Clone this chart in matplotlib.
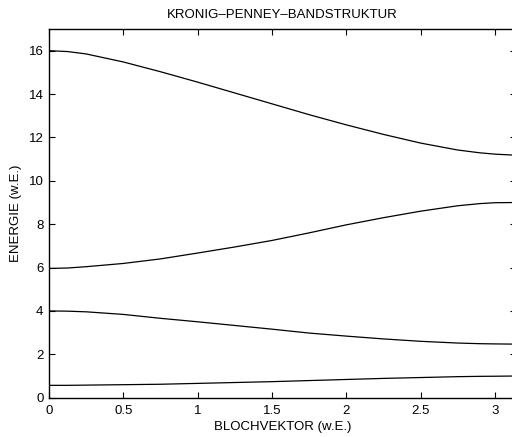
import numpy as np
import matplotlib
matplotlib.use("Agg")
import matplotlib.pyplot as plt

plt.rcParams['font.family'] = ['Liberation Sans', 'DejaVu Sans']

# Bloch wave vector samples (reduced zone, 0 .. pi)
bloch_k = [0.0, 0.125, 0.25, 0.5, 0.75, 1.0, 1.25, 1.5, 1.75, 2.0, 2.25, 2.5, 2.75, 2.9, 3.0, np.pi]

# Energies of the four lowest bands (arbitrary units)
band_1 = [0.57, 0.57, 0.58, 0.60, 0.62, 0.66, 0.70, 0.74, 0.79, 0.84, 0.89, 0.93, 0.97, 0.985, 0.99, 1.00]
band_2 = [4.00, 3.99, 3.96, 3.84, 3.66, 3.50, 3.33, 3.16, 2.98, 2.84, 2.71, 2.60, 2.52, 2.49, 2.48, 2.47]
band_3 = [5.96, 5.98, 6.04, 6.19, 6.40, 6.67, 6.95, 7.25, 7.60, 7.97, 8.30, 8.60, 8.85, 8.95, 8.99, 9.00]
band_4 = [16.00, 15.96, 15.85, 15.48, 15.03, 14.55, 14.05, 13.55, 13.05, 12.58, 12.14, 11.74, 11.42, 11.29, 11.23, 11.18]

x_ticks = [0, 0.5, 1, 1.5, 2, 2.5, 3]
x_tick_labels = ["0", "0.5", "1", "1.5", "2", "2.5", "3"]
y_ticks = [0, 2, 4, 6, 8, 10, 12, 14, 16]

fig = plt.figure(figsize=(5.12, 4.37), dpi=100)
ax = fig.add_axes([49 / 512, 39.3 / 437, 467 / 512, 368.7 / 437])

for band in (band_1, band_2, band_3, band_4):
    ax.plot(bloch_k, band, color="black", linewidth=0.9)

ax.set_xlim(0, np.pi)
ax.set_ylim(0, 17)
ax.set_xticks(x_ticks)
ax.set_xticklabels(x_tick_labels)
ax.set_yticks(y_ticks)
ax.tick_params(direction="in", length=4, width=0.8, labelsize=9.5,
               top=True, right=True)
ax.tick_params(axis="x", pad=5)
ax.tick_params(axis="y", pad=4)
for side in ax.spines.values():
    side.set_linewidth(1.0)

ax.set_title("KRONIG–PENNEY–BANDSTRUKTUR", fontsize=9.5, pad=8)
ax.set_xlabel("BLOCHVEKTOR (w.E.)", fontsize=9.5, labelpad=3)
ax.set_ylabel("ENERGIE (w.E.)", fontsize=9.5, labelpad=5)

fig.savefig("out.png", dpi=100)
